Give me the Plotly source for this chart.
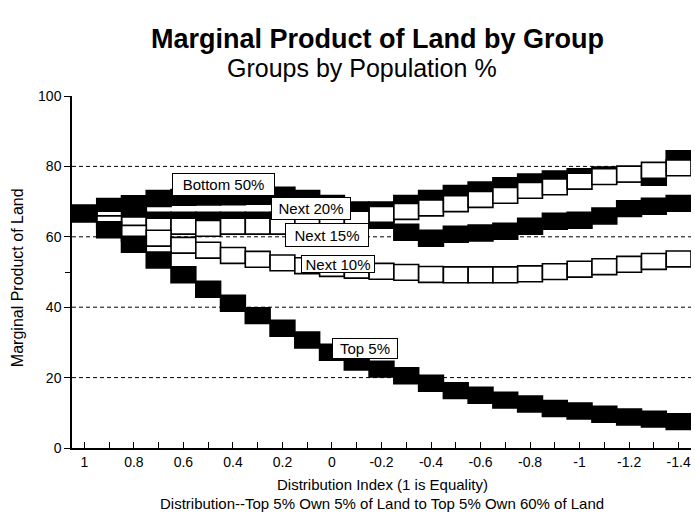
import plotly.graph_objects as go

# ---------------- data ----------------
dist_index = [1.0, 0.9, 0.8, 0.7, 0.6, 0.5, 0.4, 0.3, 0.2, 0.1, 0.0, -0.1, -0.2,
              -0.3, -0.4, -0.5, -0.6, -0.7, -0.8, -0.9, -1.0, -1.1, -1.2, -1.3, -1.4]
tick_labels = ["1", "", "0.8", "", "0.6", "", "0.4", "", "0.2", "", "0", "", "-0.2",
               "", "-0.4", "", "-0.6", "", "-0.8", "", "-1", "", "-1.2", "", "-1.4"]

bottom_50 = [66.6, 68.6, 69.4, 70.9, 71.2, 71.3, 71.4, 71.5, 71.8, 70.9, 69.5, 67.6, 67.6,
             69.5, 70.9, 72.3, 73.3, 74.5, 75.6, 76.4, 77.1, 77.6, 77.8, 76.9, 82.2]
next_20 = [66.6, 65.0, 63.4, 63.0, 63.0, 62.4, 63.0, 63.0, 63.0, 63.2, 64.0, 65.0, 66.4,
           67.2, 68.2, 69.4, 70.6, 71.8, 73.2, 74.2, 75.8, 77.1, 77.8, 78.9, 79.6]
next_15 = [66.6, 66.0, 65.0, 64.7, 64.7, 64.7, 64.7, 64.7, 64.7, 64.7, 64.7, 64.7, 64.7,
           61.3, 59.6, 60.7, 61.1, 61.6, 63.0, 64.4, 64.7, 65.9, 68.0, 68.7, 69.5]
next_10 = [66.6, 63.7, 61.0, 59.6, 57.6, 56.2, 54.7, 53.6, 52.6, 51.8, 51.0, 50.5, 50.2,
           49.9, 49.3, 49.2, 49.2, 49.2, 49.5, 50.1, 50.8, 51.5, 52.2, 53.0, 53.7]
top_5 = [66.6, 62.0, 57.9, 53.4, 49.2, 45.1, 41.1, 37.6, 34.0, 30.7, 27.2, 24.4, 22.4,
         20.5, 18.4, 16.3, 15.0, 13.6, 12.5, 11.2, 10.5, 9.6, 8.8, 8.2, 7.5]

y_ticks = [0, 20, 40, 60, 80, 100]
grid_vals = [20, 40, 60, 80]

# label name, x, y (data coords), box width, box height
series_labels = [
    ("Bottom 50%", 0.44, 74.8, 99, 19),
    ("Next 20%", 0.085, 68.0, 76, 19),
    ("Next 15%", 0.02, 60.5, 80, 20),
    ("Next 10%", -0.025, 52.4, 70, 14),
    ("Top 5%", -0.135, 28.2, 62, 17),
]

# ---------------- figure ----------------
FONT = "Liberation Sans, Arial, sans-serif"
BLOCK_H = 4.5
STEP = 0.1

fig = go.Figure()

# draw order chosen to reproduce overlaps
series = [
    ("Bottom 50%", bottom_50, "black"),
    ("Next 15%", next_15, "black"),
    ("Next 20%", next_20, "white"),
    ("Next 10%", next_10, "white"),
    ("Top 5%", top_5, "black"),
]
for name, vals, color in series:
    fig.add_trace(go.Bar(
        x=dist_index,
        y=[BLOCK_H] * len(vals),
        base=[v - BLOCK_H / 2 for v in vals],
        width=STEP,
        name=name,
        marker=dict(color=color, line=dict(color="black", width=1.6)),
        showlegend=False,
    ))

for g in grid_vals:
    fig.add_shape(type="line", xref="paper", x0=0, x1=1, yref="y", y0=g, y1=g,
                  line=dict(color="black", width=1, dash="4px,3px"), layer="below")

annotations = []
for text, ax, ay, w, h in series_labels:
    annotations.append(dict(
        x=ax, y=ay, xref="x", yref="y", text=text, showarrow=False,
        font=dict(family=FONT, size=15, color="black"),
        bgcolor="white", bordercolor="black", borderwidth=1, borderpad=1,
        width=w, height=h, align="center", valign="middle",
    ))

# titles
annotations.append(dict(x=0.494, y=1.162, xref="paper", yref="paper",
                        text="<b>Marginal Product of Land by Group</b>", showarrow=False,
                        font=dict(family=FONT, size=27, color="black"),
                        xanchor="center", yanchor="middle"))
annotations.append(dict(x=0.469, y=1.08, xref="paper", yref="paper",
                        text="Groups by Population %", showarrow=False,
                        font=dict(family=FONT, size=25, color="black"),
                        xanchor="center", yanchor="middle"))
annotations.append(dict(x=0.502, y=-0.105, xref="paper", yref="paper",
                        text="Distribution Index (1 is Equality)", showarrow=False,
                        font=dict(family=FONT, size=15, color="black"),
                        xanchor="center", yanchor="middle"))
annotations.append(dict(x=0.5, y=-0.159, xref="paper", yref="paper",
                        text="Distribution--Top 5% Own 5% of Land to Top 5% Own 60% of Land",
                        showarrow=False, font=dict(family=FONT, size=15, color="black"),
                        xanchor="center", yanchor="middle"))
annotations.append(dict(x=-0.087, y=0.483, xref="paper", yref="paper",
                        text="Marginal Product of Land", showarrow=False, textangle=-90,
                        font=dict(family=FONT, size=16, color="black"),
                        xanchor="center", yanchor="middle"))

fig.update_layout(
    width=695, height=514,
    margin=dict(l=72, r=4, t=96, b=66, autoexpand=False),
    paper_bgcolor="white", plot_bgcolor="white",
    barmode="overlay",
    font=dict(family=FONT, size=14, color="black"),
    annotations=annotations,
    xaxis=dict(
        range=[1.05, -1.45], tickvals=dist_index, ticktext=tick_labels,
        ticks="inside", ticklen=6, tickwidth=1, tickcolor="black",
        showline=True, linecolor="black", linewidth=1.5,
        showgrid=False, zeroline=False, automargin=False,
        tickfont=dict(family=FONT, size=14, color="black"),
    ),
    yaxis=dict(
        range=[0, 100], tickvals=y_ticks,
        ticks="outside", ticklen=6, tickwidth=1, tickcolor="black",
        showline=True, linecolor="black", linewidth=1.5,
        showgrid=False, zeroline=False, automargin=False,
        tickfont=dict(family=FONT, size=14, color="black"),
        minor=dict(tickvals=[50], ticks="outside", ticklen=5, tickcolor="black", showgrid=False),
    ),
)

fig.write_html("out.html", config={"displayModeBar": False},
               post_script="document.body.style.margin='0';document.body.style.overflow='hidden';")
